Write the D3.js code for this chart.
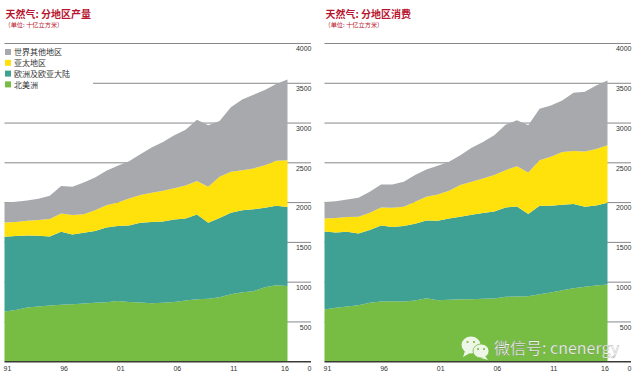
<!DOCTYPE html>
<html>
<head>
<meta charset="utf-8">
<script src="https://cdn.jsdelivr.net/npm/d3@7"></script>
<style>
  html, body { margin: 0; padding: 0; background: #fff; }
  svg { display: block; }
  text { font-family: "Liberation Sans", "Noto Sans CJK SC", sans-serif; }
  .cjk { font-family: "Noto Sans CJK SC", sans-serif; }
</style>
</head>
<body>
<svg id="chart" width="640" height="379" viewBox="0 0 640 379"></svg>
<script>
const years = d3.range(1991, 2017);
const tickYears = [1991, 1996, 2001, 2006, 2011, 2016];
const yTicks = [500, 1000, 1500, 2000, 2500, 3000, 3500, 4000];
const regions = ["northAmerica", "eurasia", "asiaPacific", "rest"];
const regionNames = ["世界其他地区", "亚太地区", "欧洲及欧亚大陆", "北美洲"];
const legendOrder = ["rest", "asiaPacific", "eurasia", "northAmerica"];

// production, billion cubic metres
const prodNorthAmerica = [630,650,680,695,705,715,723,731,740,748,762,752,745,736,740,752,770,786,790,811,849,874,886,936,961,953];
const prodEurasia = [941,930,908,889,870,919,877,890,902,940,943,961,1002,1019,1023,1036,1030,1064,957,994,1023,1031,1031,998,998,993];
const prodAsiaPacific = [180,175,184,196,218,230,243,234,263,280,295,339,347,368,385,391,416,421,453,520,515,503,512,537,566,587];
const prodRest = [251,255,255,268,292,344,357,399,411,432,462,469,514,569,615,667,701,771,771,700,813,888,926,946,967,1013];

// consumption, billion cubic metres
const consNorthAmerica = [656,677,694,711,740,757,761,757,769,799,774,778,786,786,790,795,815,820,824,849,870,899,924,941,957,970];
const consEurasia = [982,948,940,902,915,956,931,948,965,977,998,1023,1036,1061,1078,1094,1124,1132,1032,1111,1090,1074,1057,1006,1007,1027];
const consAsiaPacific = [163,180,184,209,217,226,243,242,276,296,330,347,399,415,436,457,469,506,523,573,615,664,669,695,711,723];
const consRest = [205,213,221,238,263,290,294,315,336,345,360,364,375,426,459,500,571,576,592,646,646,647,730,750,796,814];

const colors = { northAmerica: "#77bc43", eurasia: "#3fa094", asiaPacific: "#ffe20c", rest: "#a7a9ac" };
const titleRed = "#b8142f";

const svg = d3.select("#chart");
const y = d3.scaleLinear().domain([0, 4000]).range([361.7, 43.5]);

function toRows(a, b, c, d) {
    return years.map((yr, i) => ({ year: yr, northAmerica: a[i], eurasia: b[i], asiaPacific: c[i], rest: d[i] }));
}

function drawPanel(left, title, rows, hasLegend) {
    const g = svg.append("g").attr("transform", `translate(${left},0)`);
    const x = d3.scaleLinear().domain([1991, 2016]).range([4.5, 287.5]);
    const gridEnd = 311;

    // grid lines sit behind the areas
    g.append("g").selectAll("line")
        .data(yTicks)
        .enter().append("line")
        .attr("x1", d => (hasLegend && d === 3500) ? 93 : 4.5)
        .attr("x2", gridEnd)
        .attr("y1", d => y(d))
        .attr("y2", d => y(d))
        .attr("stroke", "#85878a")
        .attr("stroke-width", 1);

    const series = d3.stack().keys(regions)(rows);
    const area = d3.area()
        .x(d => x(d.data.year))
        .y0(d => y(d[0]))
        .y1(d => y(d[1]));

    g.append("g").selectAll("path")
        .data(series)
        .enter().append("path")
        .attr("fill", d => colors[d.key])
        .attr("d", area);

    // baseline
    g.append("line")
        .attr("x1", 4.5).attr("x2", gridEnd)
        .attr("y1", y(0)).attr("y2", y(0))
        .attr("stroke", "#3a3a36").attr("stroke-width", 1.4);

    // right hand value labels
    g.append("g").selectAll("text")
        .data(yTicks)
        .enter().append("text")
        .attr("x", gridEnd + 0.5)
        .attr("y", d => y(d) + 7.8)
        .attr("text-anchor", "end")
        .attr("font-size", 7)
        .attr("fill", "#333")
        .text(d => d);

    g.append("text")
        .attr("x", 311.5).attr("y", 370.5)
        .attr("text-anchor", "end")
        .attr("font-size", 7).attr("fill", "#333")
        .text("0");

    g.append("g").selectAll("text")
        .data(tickYears)
        .enter().append("text")
        .attr("x", d => d === 2016 ? x(d) - 2.5 : x(d) + 3)
        .attr("y", 370.5)
        .attr("text-anchor", "middle")
        .attr("font-size", 7)
        .attr("fill", "#333")
        .text(d => String(d).slice(2));

    g.append("text")
        .attr("class", "cjk")
        .attr("x", 5.5).attr("y", 18)
        .attr("font-size", 10).attr("font-weight", 700)
        .attr("fill", titleRed)
        .text(title);

    g.append("text")
        .attr("class", "cjk")
        .attr("x", 4.5).attr("y", 27)
        .attr("font-size", 6.2)
        .attr("fill", titleRed)
        .text("（单位: 十亿立方米）");

    if (hasLegend) {
        const item = g.append("g").selectAll("g")
            .data(legendOrder)
            .enter().append("g")
            .attr("transform", (d, i) => `translate(5,${49 + i * 10.8})`);
        item.append("rect")
            .attr("width", 6).attr("height", 6)
            .attr("fill", d => colors[d]);
        item.append("text")
            .attr("class", "cjk")
            .attr("x", 9).attr("y", 6.3)
            .attr("font-size", 8)
            .attr("fill", "#333")
            .text((d, i) => regionNames[i]);
    }
}

drawPanel(0, "天然气: 分地区产量", toRows(prodNorthAmerica, prodEurasia, prodAsiaPacific, prodRest), true);
drawPanel(320, "天然气: 分地区消费", toRows(consNorthAmerica, consEurasia, consAsiaPacific, consRest), false);

// wechat watermark
const mark = svg.append("g").attr("fill", "#fff").attr("opacity", 0.88);
mark.append("ellipse").attr("cx", 471).attr("cy", 345).attr("rx", 9.5).attr("ry", 8.5);
mark.append("path").attr("d", "M465 351 L463 357 L470 353 Z");
mark.append("ellipse").attr("cx", 481).attr("cy", 351).attr("rx", 8).attr("ry", 7).attr("stroke", "#77bc43").attr("stroke-width", 0.8);
mark.append("path").attr("d", "M485 356 L488 360 L481 358 Z");
[[467.5, 342], [474, 342], [478, 349], [484, 349]].forEach(p => {
    svg.append("circle").attr("cx", p[0]).attr("cy", p[1]).attr("r", 1.1).attr("fill", "#77bc43");
});
svg.append("text")
    .attr("class", "cjk")
    .attr("x", 494).attr("y", 354)
    .attr("font-size", 16)
    .attr("fill", "#fff")
    .attr("opacity", 0.9)
    .attr("stroke", "#777")
    .attr("stroke-width", 0.25)
    .text("微信号: cnenergy");
</script>
</body>
</html>
